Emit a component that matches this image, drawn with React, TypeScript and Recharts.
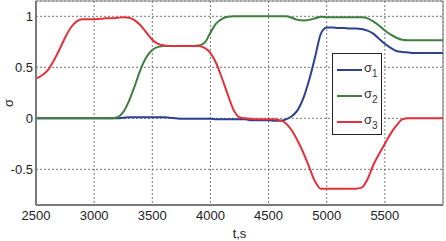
import React from 'react';
import { LineChart, Line, XAxis, YAxis, CartesianGrid, ReferenceArea, Legend } from 'recharts';

const times = [
  2500, 2550, 2600, 2650, 2700, 2750, 2800, 2850, 2900, 2950,
  3000, 3050, 3100, 3150, 3200, 3250, 3300, 3350, 3400, 3450,
  3500, 3550, 3600, 3650, 3700, 3750, 3800, 3850, 3900, 3950,
  4000, 4050, 4100, 4150, 4200, 4250, 4300, 4350, 4400, 4450,
  4500, 4550, 4600, 4650, 4700, 4750, 4800, 4850, 4900, 4950,
  5000, 5050, 5100, 5150, 5200, 5250, 5300, 5350, 5400, 5450,
  5500, 5550, 5600, 5650, 5700, 5750, 5800, 5850, 5900, 5950, 6000,
];

const sigma1 = [
  0, 0, 0, 0, 0, 0, 0, 0, 0, 0,
  0, 0, 0, 0, 0, 0.005, 0.01, 0.01, 0.01, 0.01,
  0.01, 0.01, 0.01, 0.005, 0, -0.005, -0.005, -0.005, -0.005, -0.005,
  -0.005, -0.01, -0.01, -0.01, -0.01, -0.01, -0.01, -0.02, -0.02, -0.02,
  -0.02, -0.025, -0.025, -0.01, 0.02, 0.08, 0.2, 0.38, 0.6, 0.83,
  0.89, 0.89, 0.885, 0.885, 0.88, 0.88, 0.875, 0.86, 0.83, 0.78,
  0.73, 0.69, 0.66, 0.65, 0.645, 0.64, 0.64, 0.64, 0.64, 0.64, 0.64,
];

const sigma2 = [
  0, 0, 0, 0, 0, 0, 0, 0, 0, 0,
  0, 0, 0, 0, 0.01, 0.06, 0.17, 0.32, 0.48, 0.6,
  0.67, 0.7, 0.71, 0.71, 0.71, 0.71, 0.71, 0.71, 0.715, 0.74,
  0.84, 0.93, 0.975, 0.995, 1.0, 1.0, 1.0, 1.0, 1.0, 1.0,
  1.0, 1.0, 1.0, 1.0, 0.985, 0.965, 0.96, 0.965, 0.98, 0.995,
  0.99, 0.99, 0.99, 0.99, 0.99, 0.99, 0.99, 0.98, 0.95, 0.91,
  0.86, 0.82, 0.79, 0.77, 0.765, 0.765, 0.765, 0.765, 0.765, 0.765, 0.765,
];

const sigma3 = [
  0.39, 0.42, 0.47, 0.56, 0.67, 0.79, 0.89, 0.95, 0.97, 0.97,
  0.97, 0.975, 0.98, 0.98, 0.985, 0.99, 0.985, 0.96, 0.91, 0.84,
  0.77, 0.73, 0.715, 0.71, 0.71, 0.71, 0.71, 0.71, 0.71, 0.69,
  0.64, 0.54, 0.39, 0.23, 0.08, 0.01, 0, -0.005, -0.01, -0.01,
  -0.01, -0.01, -0.02, -0.05, -0.12, -0.22, -0.34, -0.48, -0.62, -0.69,
  -0.69, -0.69, -0.69, -0.69, -0.69, -0.69, -0.68, -0.6, -0.46, -0.35,
  -0.25, -0.15, -0.07, -0.01, 0, 0, 0, 0, 0, 0, 0,
];

const xTicks = [2500, 3000, 3500, 4000, 4500, 5000, 5500];
const yTicks = [-0.5, 0, 0.5, 1];
const seriesKeys = ['s1', 's2', 's3'];
const seriesSubs = ['1', '2', '3'];
const seriesColors = ['#2f3f92', '#3f7f3f', '#e2323a'];

const data = times.map((t, i) => ({ t, s1: sigma1[i], s2: sigma2[i], s3: sigma3[i] }));

const FONT = 'Liberation Sans, Arial, sans-serif';

const LegendBox = () => (
  <div
    style={{
      width: 50,
      height: 82,
      border: '1px solid #222',
      background: '#fff',
      boxSizing: 'border-box',
      position: 'relative',
      fontFamily: FONT,
    }}
  >
    {seriesKeys.map((k, i) => (
      <div key={k} style={{ position: 'absolute', left: 4, top: 8 + i * 26, height: 16, width: 44 }}>
        <div style={{ position: 'absolute', left: 0, top: 7, width: 25, height: 2, background: seriesColors[i] }} />
        <div style={{ position: 'absolute', left: 27, top: -1, fontSize: 13, color: '#333', lineHeight: '14px' }}>
          σ<sub style={{ fontSize: 10, verticalAlign: 'baseline', position: 'relative', top: 5 }}>{seriesSubs[i]}</sub>
        </div>
      </div>
    ))}
  </div>
);

const YLabel = (props: any) => {
  const vb = props.viewBox || { x: 0, y: 1, width: 36, height: 204 };
  const cy = vb.y + vb.height / 2;
  return (
    <text x={8} y={cy} transform={`rotate(-90, 8, ${cy})`} textAnchor="middle" dominantBaseline="central" fontSize={13} fill="#333" fontFamily={FONT}>
      σ
    </text>
  );
};

export default function App() {
  return (
    <div style={{ position: 'absolute', left: 0, top: 0, width: 446, height: 241, background: '#fff' }}>
      <LineChart width={446} height={241} data={data} margin={{ top: 1, right: 3, left: 0, bottom: 0 }} style={{ fontFamily: FONT }}>
        <CartesianGrid stroke="#555" strokeDasharray="2 2" strokeWidth={0.8} />
        <XAxis
          dataKey="t"
          type="number"
          domain={[2500, 6000]}
          ticks={xTicks}
          allowDataOverflow
          height={36}
          tickLine={false}
          tickSize={6}
          tickMargin={0}
          axisLine={{ stroke: '#7a7a7a', strokeWidth: 2 }}
          tick={{ fontSize: 13, fill: '#222', fontFamily: FONT }}
          label={{ value: 't,s', position: 'insideBottom', offset: 3, fontSize: 13, fill: '#222', fontFamily: FONT }}
        />
        <YAxis
          type="number"
          domain={[-0.85, 1.15]}
          ticks={yTicks}
          allowDataOverflow
          width={36}
          tickLine={false}
          tickSize={3}
          tickMargin={0}
          axisLine={{ stroke: '#7a7a7a', strokeWidth: 2 }}
          tick={{ fontSize: 13, fill: '#222', fontFamily: FONT }}
          label={YLabel}
        />
        <ReferenceArea x1={2500} x2={6000} y1={-0.85} y2={1.15} fill="none" stroke="#8a8a8a" strokeWidth={1.2} />
        {seriesKeys.map((k, i) => (
          <Line
            key={k}
            dataKey={k}
            type="monotone"
            stroke={seriesColors[i]}
            strokeWidth={2}
            dot={false}
            isAnimationActive={false}
          />
        ))}
        <Legend
          layout="horizontal"
          verticalAlign="middle"
          align="center"
          content={() => <LegendBox />}
          wrapperStyle={{ position: 'absolute', left: 332, top: 53, width: 50, height: 82 }}
        />
      </LineChart>
    </div>
  );
}
